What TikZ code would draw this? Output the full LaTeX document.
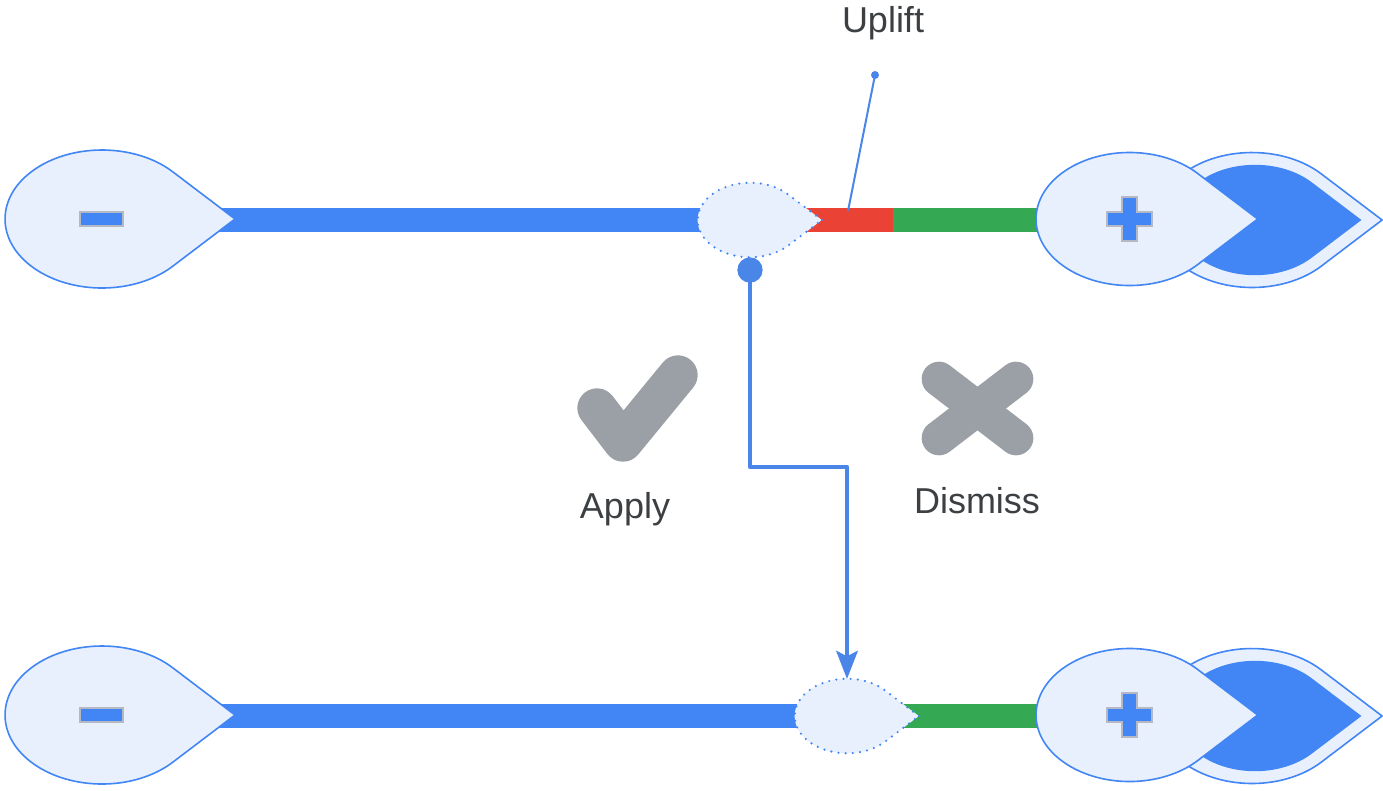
\documentclass[tikz,border=0pt]{standalone}
\usepackage{fontspec}
\setmainfont{Liberation Sans}
\usetikzlibrary{arrows.meta}
\definecolor{gblue}{HTML}{4285F4}
\definecolor{cblue}{HTML}{4A86E8}
\definecolor{lightfill}{HTML}{E8F0FE}
\definecolor{gred}{HTML}{EA4335}
\definecolor{ggreen}{HTML}{34A853}
\definecolor{ggray}{HTML}{9AA0A6}
\definecolor{signedge}{HTML}{B4B9C4}
\definecolor{txt}{HTML}{3C4043}
\tikzset{
  pics/drop/.style={code={
    \path[pic actions] (133,0) -- (70.74,-47.23)
      arc[start angle=-43.2, end angle=-316.8, x radius=97, y radius=69] -- cycle;}},
  dropsolid/.style={fill=lightfill, draw=gblue, line width=1.2pt},
  dropdotted/.style={fill=lightfill, draw=gblue, line width=1.8pt, line cap=round, dash pattern=on 0pt off 5.4pt},
  dropinner/.style={fill=gblue},
  bar/.style={fill=#1},
  signbox/.style={fill=gblue, draw=signedge, line width=0.9pt},
  conn/.style={draw=cblue, line width=3.6pt, line join=round},
  callout/.style={draw=cblue, line width=1.5pt},
  icon/.style={draw=ggray, line cap=round, line join=round},
  label/.style={text=txt, font=\fontsize{27}{32}\selectfont, inner sep=0pt, anchor=base},
}
\begin{document}
\begin{tikzpicture}[x=0.75pt, y=-0.75pt]
\useasboundingbox (0,0) rectangle (1383,790);

% ---------- top row ----------
\fill[bar=gblue] (150,208) rectangle (760,232);
\fill[bar=gred] (760,208) rectangle (893,232);
\fill[bar=ggreen] (893,208) rectangle (1080,232);

\coordinate (backTop) at (1252,220);
\pic[dropsolid, scale=0.978] at (backTop) {drop};
\pic[dropinner, scale=0.80] at (1255,220) {drop};
\coordinate (plusTopC) at (1129.5,219);
\pic[dropsolid, scale=0.964] at (plusTopC) {drop};
\draw[signbox] ([shift={(-7.5,-22)}]plusTopC) -- ++(15,0) -- ++(0,15) -- ++(15,0) -- ++(0,14) -- ++(-15,0) -- ++(0,15) -- ++(-15,0) -- ++(0,-15) -- ++(-15,0) -- ++(0,-14) -- ++(15,0) -- cycle;

\coordinate (minusTopC) at (102,219);
\pic[dropsolid] at (minusTopC) {drop};
\draw[signbox] (80,212) rectangle (123,226);

\coordinate (sugTop) at (750,220);
\pic[dropdotted, scale=0.54] at (sugTop) {drop};

% ---------- bottom row ----------
\fill[bar=gblue] (150,704) rectangle (850,728);
\fill[bar=ggreen] (850,704) rectangle (1080,728);

\coordinate (backBot) at (1252,716);
\pic[dropsolid, scale=0.978] at (backBot) {drop};
\pic[dropinner, scale=0.80] at (1255,716) {drop};
\coordinate (plusBotC) at (1129.5,715);
\pic[dropsolid, scale=0.964] at (plusBotC) {drop};
\draw[signbox] ([shift={(-7.5,-22)}]plusBotC) -- ++(15,0) -- ++(0,15) -- ++(15,0) -- ++(0,14) -- ++(-15,0) -- ++(0,15) -- ++(-15,0) -- ++(0,-15) -- ++(-15,0) -- ++(0,-14) -- ++(15,0) -- cycle;

\coordinate (minusBotC) at (102,715);
\pic[dropsolid] at (minusBotC) {drop};
\draw[signbox] (80,708) rectangle (123,722);

\coordinate (sugBot) at (847,716);
\pic[dropdotted, scale=0.54] at (sugBot) {drop};

% ---------- connector ----------
\node[circle, fill=cblue, minimum size=19pt, inner sep=0pt] (dot) at (750,270) {};
\coordinate (sugBotTop) at (847,679);
\draw[conn, -{Stealth[length=21pt, width=16pt, inset=4pt]}] (dot.center) -- ++(0,197) -| (sugBotTop);

% ---------- uplift callout ----------
\node[label] (uplift) at (883,32) {Uplift};
\node[circle, fill=cblue, minimum size=6pt, inner sep=0pt] (upDot) at (875,75) {};
\coordinate (upEnd) at (848,211);
\draw[callout] (upDot.center) -- (upEnd);

% ---------- icons ----------
\draw[icon, line width=29.5pt] (597,408) -- (623,442) -- (678,375);
\draw[icon, line width=26pt] (939,379) -- (1016,438);
\draw[icon, line width=26pt] (939,438) -- (1016,379);
\node[label] (apply) at (625,518) {Apply};
\node[label] (dismiss) at (977,513) {Dismiss};
\end{tikzpicture}
\end{document}
